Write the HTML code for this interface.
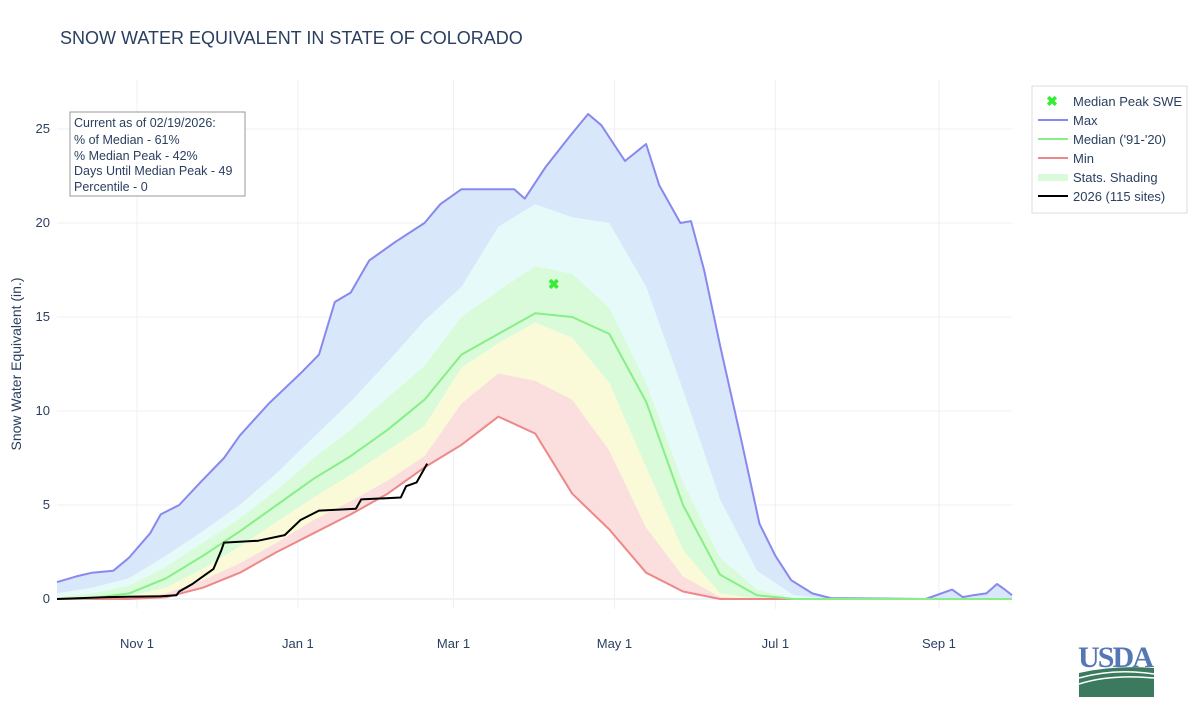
<!DOCTYPE html>
<html><head><meta charset="utf-8"><style>
body{margin:0;background:#fff;font-family:"Liberation Sans",Arial,sans-serif;}
svg text{font-family:"Liberation Sans",Arial,sans-serif;fill:#2a3f5f;}
</style></head><body>
<svg id="chart" width="1200" height="700" xmlns="http://www.w3.org/2000/svg">
<text x="60" y="44" font-size="18">SNOW WATER EQUIVALENT IN STATE OF COLORADO</text>
<g id="grid"></g>
<g id="bands"></g>
<g id="lines"></g>
<g id="axes"></g>
<text transform="translate(21,364) rotate(-90)" text-anchor="middle" font-size="14">Snow Water Equivalent (in.)</text>
<g>
<rect x="70" y="112" width="175" height="84" fill="#fff" stroke="#999" stroke-width="1"/>
<text x="74" y="127" font-size="12.5">Current as of 02/19/2026:</text>
<text x="74" y="144" font-size="12.5">% of Median - 61%</text>
<text x="74" y="160" font-size="12.5">% Median Peak - 42%</text>
<text x="74" y="175" font-size="12.5">Days Until Median Peak - 49</text>
<text x="74" y="191" font-size="12.5">Percentile - 0</text>
</g>
<g>
<rect x="1032" y="86" width="155" height="127" fill="#fff" stroke="#ddd" stroke-width="1"/>
<text x="1052" y="106" font-size="14" text-anchor="middle" style="fill:#33ee33;font-weight:bold">✖</text>
<text x="1073" y="106" font-size="13">Median Peak SWE</text>
<line x1="1038" y1="120" x2="1068" y2="120" stroke="#8888ee" stroke-width="2"/>
<text x="1073" y="125" font-size="13">Max</text>
<line x1="1038" y1="139" x2="1068" y2="139" stroke="#88ee88" stroke-width="2"/>
<text x="1073" y="144" font-size="13">Median ('91-'20)</text>
<line x1="1038" y1="158" x2="1068" y2="158" stroke="#ee8888" stroke-width="2"/>
<text x="1073" y="163" font-size="13">Min</text>
<rect x="1038" y="174" width="30" height="7" fill="#d9fbd9"/>
<text x="1073" y="182" font-size="13">Stats. Shading</text>
<line x1="1038" y1="196" x2="1068" y2="196" stroke="#000" stroke-width="2"/>
<text x="1073" y="201" font-size="13">2026 (115 sites)</text>
</g>
<g>
<text x="1116" y="667" font-size="30" text-anchor="middle" style="fill:#5578b5;font-family:'Liberation Serif',serif;font-weight:bold" textLength="76">USDA</text>
<path d="M1079 673 Q1115 665 1154 668 L1154 697 L1079 697 Z" fill="#3b7a5e"/>
<path d="M1079 678 Q1115 668 1154 674" stroke="#fff" stroke-width="1.5" fill="none"/>
<path d="M1079 684 Q1110 674 1154 678" stroke="#fff" stroke-width="1.5" fill="none"/>
</g>
</svg>
<script>
const days=[0,14,28,42,56,70,84,98,112,126,140,154,168,182,196,210,224,238,252,266,280,294,308,322,336,350,357,364];
const maxDays=[0,8,14,22,28,36,40,47,55,64,70,81,93,100,106,112,119,129,140,146,154,174,178,186,195,202,207,216,224,229,237,241,246,252,260,267,273,279,287,294,330,340,344,348,353,357,360,364];
const maxV=[0.9,1.2,1.4,1.5,2.2,3.5,4.5,5.0,6.2,7.5,8.7,10.4,12.0,13.0,15.8,16.3,18.0,19.0,20.0,21.0,21.8,21.8,21.3,23.0,24.6,25.8,25.2,23.3,24.2,22.0,20.0,20.1,17.5,13.5,8.5,4.0,2.3,1.0,0.3,0.05,0,0.5,0.1,0.2,0.3,0.8,0.5,0.2];
const p90=[0.3,0.6,1.1,2.3,3.6,5.0,6.7,8.6,10.5,12.6,14.8,16.6,19.8,21.0,20.3,20.0,16.6,11.1,5.3,1.5,0.2,0,0,0,0,0,0,0];
const p70=[0.1,0.3,0.7,1.7,3.0,4.3,5.8,7.5,9.0,10.7,12.4,15.0,16.4,17.7,17.3,15.5,11.5,6.2,2.2,0.5,0,0,0,0,0,0,0,0];
const median=[0,0.05,0.3,1.1,2.3,3.6,5.0,6.4,7.6,9.0,10.6,13.0,14.1,15.2,15.0,14.1,10.5,5.0,1.3,0.2,0,0,0,0,0,0,0,0];
const p30=[0,0.02,0.15,0.6,1.6,2.8,4.1,5.4,6.6,7.9,9.2,12.3,13.6,14.7,13.9,11.5,7.0,2.6,0.3,0,0,0,0,0,0,0,0,0];
const p10=[0,0,0.05,0.3,1.0,1.9,3.0,4.2,5.2,6.3,7.6,10.4,12.0,11.6,10.6,7.9,3.8,1.2,0.1,0,0,0,0,0,0,0,0,0];
const minV=[0,0,0,0.1,0.6,1.4,2.5,3.5,4.5,5.6,7.0,8.2,9.7,8.8,5.6,3.7,1.4,0.4,0,0,0,0,0,0,0,0,0,0];
const curDays=[0,20,40,46,47,52,55,60,63,64,77,87,93,100,114,116,131,133,137,141];
const curVals=[0,0.1,0.15,0.2,0.4,0.8,1.1,1.6,2.6,3.0,3.1,3.4,4.2,4.7,4.8,5.3,5.4,6.0,6.2,7.2];
const peakDay=[189];const peakVal=[16.75];
const yTicks=[0,5,10,15,20,25];
const xTickLabels=["Nov 1","Jan 1","Mar 1","May 1","Jul 1","Sep 1"];
const xTickDays=[31,92,151,212,273,335];

const X0=55.2,PXD=2.638,XR=1012,Y0=599,PXV=18.8;
const xs=d=>X0+d*PXD;
const ys=v=>Y0-v*PXV;
const NS="http://www.w3.org/2000/svg";
function mk(tag,parent,attrs){const e=document.createElementNS(NS,tag);for(const k in attrs)e.setAttribute(k,attrs[k]);document.getElementById(parent).appendChild(e);return e;}
yTicks.forEach(t=>{
  const l=mk('line','grid',{x1:57,x2:XR,y1:ys(t),y2:ys(t),stroke:t===0?'#e0e4ee':'#eef0f5','stroke-width':1});
  
  
  const tx=mk('text','axes',{x:50,y:ys(t)+4,'text-anchor':'end','font-size':13});
  tx.textContent=t;
  
  
});
xTickDays.forEach((d,i)=>{
  const l=mk('line','grid',{x1:xs(d),x2:xs(d),y1:80,y2:Y0+10,stroke:'#eef0f5','stroke-width':1});
  
  
  const tx=mk('text','axes',{x:xs(d),y:648,'text-anchor':'middle','font-size':13});
  tx.textContent=xTickLabels[i];
  
  
});
const clipX=x=>Math.min(Math.max(x,57),XR);
function pts(ds,vs){return ds.map((d,i)=>clipX(xs(d)).toFixed(1)+','+ys(vs[i]).toFixed(1));}
function band(tds,top,bds,bot,fill,name){
  const p=pts(tds,top).concat(pts(bds,bot).reverse());
  const e=mk('polygon','bands',{points:p.join(' '),fill:fill});
  
  
}
band(maxDays,maxV,days,p90,'#d8e7fa','band-max-p90');
band(days,p90,days,p70,'#e6fafa','band-p90-p70');
band(days,p70,days,p30,'#d9fbd9','band-p70-p30');
band(days,p30,days,p10,'#fafad9','band-p30-p10');
band(days,p10,days,minV,'#fbdede','band-p10-min');
function line(ds,vs,col,w,name){
  const e=mk('polyline','lines',{points:pts(ds,vs).join(' '),fill:'none',stroke:col,'stroke-width':w,'stroke-linejoin':'round'});
  
  
}
line(maxDays,maxV,'#8888ee',2,'max-line');
line(days,minV,'#ee8888',2,'min-line');
line(days,median,'#88ee88',2,'median-line');
line(curDays,curVals,'#000',2,'current-2026-line');
peakDay.forEach((d,i)=>{
  const t=mk('text','lines',{x:xs(d),y:ys(peakVal[i])+5,'text-anchor':'middle','font-size':14,style:'fill:#33ee33;font-weight:bold'});
  t.textContent='✖';
  
  
});
</script>
</body></html>
